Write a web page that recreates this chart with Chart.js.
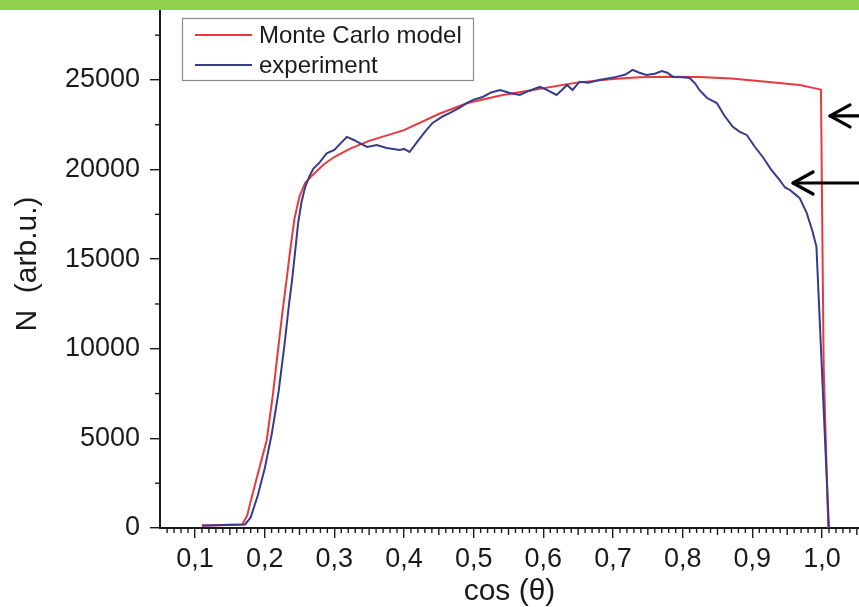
<!DOCTYPE html>
<html><head><meta charset="utf-8">
<script src="https://cdn.jsdelivr.net/npm/chart.js@4.4.0/dist/chart.umd.min.js"></script>
<style>
html,body{margin:0;padding:0;background:#fff;}
#wrap{position:relative;width:859px;height:607px;overflow:hidden;background:#fff;}
#bar{position:absolute;left:0;top:0;width:859px;height:10px;background:#92d050;}
canvas{position:absolute;left:0;top:0;}
</style></head><body>
<div id="wrap"><canvas id="c" width="859" height="607"></canvas><div id="bar"></div></div>
<script>
// ---- data ----
const seriesNames = ['Monte Carlo model', 'experiment'];

const mcX = [0.110,0.130,0.150,0.168,0.175,0.180,0.190,0.203,0.212,0.220,0.226,0.231,0.237,0.243,0.250,0.258,0.269,0.285,0.300,0.322,0.350,0.400,0.450,0.490,0.540,0.585,0.648,0.700,0.738,0.780,0.824,0.870,0.920,0.968,0.994,0.9985,1.000,1.0024,1.009];
const mcY = [150,160,170,200,700,1500,3000,4900,7500,10200,12200,13700,15600,17300,18500,19250,19700,20300,20700,21150,21600,22200,23100,23700,24150,24440,24850,25050,25150,25180,25170,25080,24900,24720,24500,24450,18300,9000,0];

const expX = [0.110,0.130,0.150,0.172,0.180,0.190,0.200,0.210,0.220,0.229,0.235,0.239,0.244,0.248,0.253,0.258,0.264,0.270,0.279,0.289,0.300,0.310,0.318,0.328,0.338,0.347,0.361,0.375,0.394,0.400,0.408,0.420,0.430,0.441,0.455,0.466,0.480,0.490,0.500,0.513,0.525,0.538,0.552,0.566,0.580,0.595,0.605,0.619,0.627,0.634,0.642,0.652,0.665,0.680,0.705,0.718,0.728,0.738,0.748,0.760,0.770,0.778,0.786,0.800,0.810,0.818,0.824,0.835,0.849,0.860,0.872,0.882,0.892,0.903,0.915,0.927,0.939,0.947,0.954,0.962,0.968,0.978,0.986,0.992,1.010];
const expY = [120,150,180,200,600,1800,3300,5200,7600,10400,12500,13700,15500,17000,18200,19000,19600,20050,20400,20900,21100,21500,21820,21650,21450,21260,21370,21200,21090,21150,20980,21600,22100,22600,22950,23160,23450,23710,23900,24050,24300,24440,24270,24160,24400,24610,24450,24160,24450,24720,24440,24900,24850,25000,25170,25300,25560,25400,25280,25350,25500,25400,25170,25150,25110,24800,24440,23990,23710,23000,22380,22100,21930,21300,20700,20000,19420,19000,18860,18600,18410,17580,16600,15700,0];

const xTickValues = [0.1,0.2,0.3,0.4,0.5,0.6,0.7,0.8,0.9,1.0];
const xTickLabels = ['0,1','0,2','0,3','0,4','0,5','0,6','0,7','0,8','0,9','1,0'];
const yTickValues = [0,5000,10000,15000,20000,25000];
const yTickLabels = ['0','5000','10000','15000','20000','25000'];
const xTitle = 'cos (\u03B8)';
const yTitle = 'N  (arb.u.)';

// annotation arrows (tips in data units)
const arrowTipX = [1.0115, 0.9584];
const arrowTipY = [22990, 19250];

const FONT = "'Liberation Sans', Arial, sans-serif";
const INK = '#1a1a1a';
const colors = ['#e8393f', '#363b8c'];

const minorTicks = {
  id: 'minorTicks',
  afterDraw(chart) {
    const ctx = chart.ctx, xs = chart.scales.x, ys = chart.scales.y, ca = chart.chartArea;
    ctx.save();
    ctx.strokeStyle = INK; ctx.lineWidth = 1.4;
    for (let i = 5; i <= 106; i++) {
      if (i % 10 === 0) continue;
      const px = xs.getPixelForValue(i / 100);
      if (px < ca.left + 1 || px > ca.right) continue;
      const len = (i % 5 === 0) ? 7 : 5;
      ctx.beginPath(); ctx.moveTo(px, ca.bottom); ctx.lineTo(px, ca.bottom + len); ctx.stroke();
    }
    for (let v = 2500; v < ys.max; v += 5000) {
      const py = ys.getPixelForValue(v);
      ctx.beginPath(); ctx.moveTo(ca.left, py); ctx.lineTo(ca.left - 5, py); ctx.stroke();
    }
    ctx.restore();
  }
};

const boxLegend = {
  id: 'boxLegend',
  afterDraw(chart) {
    const ctx = chart.ctx, ca = chart.chartArea;
    const bx = ca.left + 22, by = 18, bw = 291, bh = 62;
    ctx.save();
    ctx.fillStyle = '#fff';
    ctx.fillRect(bx, by, bw, bh);
    ctx.strokeStyle = '#8a8a8a'; ctx.lineWidth = 1.2;
    ctx.strokeRect(bx + 0.5, by + 0.5, bw, bh);
    ctx.font = '24px ' + FONT;
    ctx.textBaseline = 'middle';
    chart.data.datasets.forEach((ds, i) => {
      const y = by + 17 + i * 30;
      ctx.strokeStyle = ds.borderColor; ctx.lineWidth = 2;
      ctx.beginPath(); ctx.moveTo(bx + 13, y); ctx.lineTo(bx + 70, y); ctx.stroke();
      ctx.fillStyle = INK;
      ctx.fillText(ds.label, bx + 77, y + 1);
    });
    ctx.restore();
  }
};

const arrows = {
  id: 'arrows',
  afterDraw(chart) {
    const ctx = chart.ctx, xs = chart.scales.x, ys = chart.scales.y;
    ctx.save();
    ctx.strokeStyle = '#000'; ctx.lineWidth = 3.2; ctx.lineCap = 'round'; ctx.lineJoin = 'round';
    arrowTipX.forEach((xv, i) => {
      const tx = xs.getPixelForValue(xv), ty = ys.getPixelForValue(arrowTipY[i]);
      ctx.beginPath(); ctx.moveTo(tx, ty); ctx.lineTo(chart.width + 5, ty); ctx.stroke();
      ctx.beginPath(); ctx.moveTo(tx + 20, ty - 11); ctx.lineTo(tx, ty); ctx.lineTo(tx + 20, ty + 11); ctx.stroke();
    });
    ctx.restore();
  }
};

const toPts = (xs, ys) => xs.map((x, i) => ({ x: x, y: ys[i] }));

new Chart(document.getElementById('c'), {
  type: 'line',
  data: {
    datasets: [
      { label: seriesNames[0], data: toPts(mcX, mcY), borderColor: colors[0], borderWidth: 2, pointRadius: 0, tension: 0, fill: false, order: 1 },
      { label: seriesNames[1], data: toPts(expX, expY), borderColor: colors[1], borderWidth: 2, pointRadius: 0, tension: 0, fill: false, order: 0 }
    ]
  },
  options: {
    responsive: false,
    animation: false,
    events: [],
    layout: { padding: 0 },
    plugins: { legend: { display: false }, tooltip: { enabled: false } },
    scales: {
      x: {
        type: 'linear', min: 0.0498, max: 1.0531,
        afterBuildTicks: s => { s.ticks = xTickValues.map(v => ({ value: v })); },
        afterFit: s => { s.height = 79; s.paddingLeft = 0; s.paddingRight = 0; },
        ticks: { autoSkip: false, maxRotation: 0, padding: 5, color: INK, font: { family: FONT, size: 27 },
                 callback: (v, i) => xTickLabels[i] },
        grid: { drawOnChartArea: false, drawTicks: true, tickLength: 10, color: INK, lineWidth: 1.4 },
        border: { display: true, color: INK, width: 2 },
        title: { display: true, text: xTitle, color: INK, font: { family: FONT, size: 30, lineHeight: 1 }, padding: { top: 0, bottom: 0 } }
      },
      y: {
        type: 'linear', min: 0, max: 29460,
        afterBuildTicks: s => { s.ticks = yTickValues.map(v => ({ value: v })); },
        afterFit: s => { s.width = 160; s.paddingTop = 0; s.paddingBottom = 0; },
        ticks: { autoSkip: false, padding: 10, color: INK, font: { family: FONT, size: 27 },
                 callback: (v, i) => yTickLabels[i] },
        grid: { drawOnChartArea: false, drawTicks: true, tickLength: 10, color: INK, lineWidth: 1.4 },
        border: { display: true, color: INK, width: 2 },
        title: { display: true, text: yTitle, color: INK, font: { family: FONT, size: 30, lineHeight: 1 }, padding: { top: 13, bottom: 0 } }
      }
    }
  },
  plugins: [minorTicks, boxLegend, arrows]
});
</script>
</body></html>
